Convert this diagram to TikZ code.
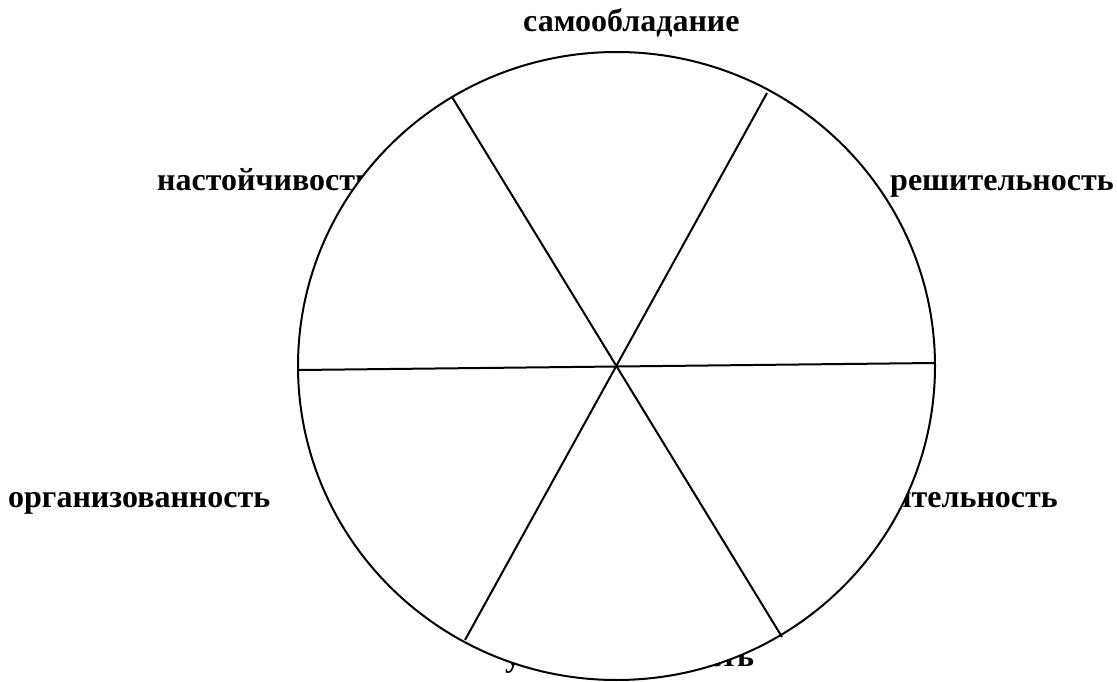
\documentclass[tikz,border=0pt]{standalone}
\usepackage{fontspec}
\setmainfont{Liberation Serif}
\tikzset{
  lbl/.style={inner sep=0pt, font=\fontsize{32}{38}\selectfont\bfseries},
  wheel/.style={draw=black, fill=white, line width=2pt},
  spoke/.style={draw=black, line width=2pt}
}
\begin{document}
\begin{tikzpicture}[x=1pt,y=-1pt]
\useasboundingbox (0,0) rectangle (1117,682);
% labels (drawn first, partly hidden by the wheel)
\node[lbl, anchor=base west] (l1) at (523,32) {самообладание};
\node[lbl, anchor=base west] (l2) at (157,190) {настойчивость};
\node[lbl, anchor=base west] (l3) at (890,190) {решительность};
\node[lbl, anchor=base west] (l4) at (8,507) {организованность};
\node[lbl, anchor=base east] (l5) at (1058,507) {самостоятельность};
\node[lbl, anchor=base west] (l6) at (505,666) {упорядоченность};
% wheel
\draw[wheel] (616.5,366) ellipse [x radius=318.5, y radius=314];
% spokes
\coordinate (a1) at (452,97);
\coordinate (a2) at (782,637);
\coordinate (b1) at (767,93);
\coordinate (b2) at (465,640);
\coordinate (c1) at (299,370);
\coordinate (c2) at (935,363);
\draw[spoke] (a1) -- (a2);
\draw[spoke] (b1) -- (b2);
\draw[spoke] (c1) -- (c2);
\end{tikzpicture}
\end{document}
